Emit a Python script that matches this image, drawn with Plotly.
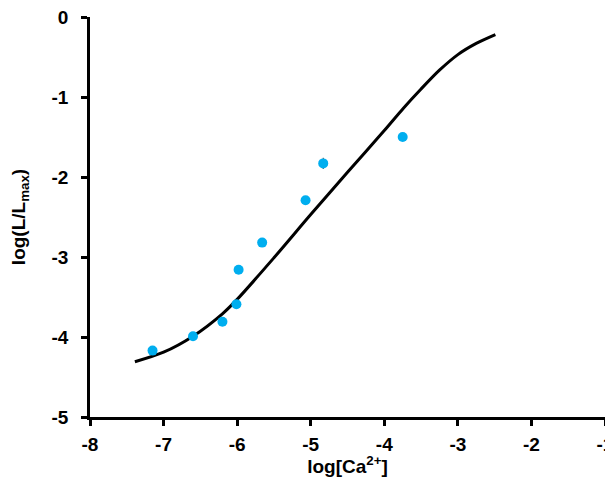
import plotly.graph_objects as go

# measured data points
log_ca = [-7.15, -6.60, -6.20, -6.01, -5.98, -5.66, -5.07, -4.83, -3.75]
log_l = [-4.17, -3.99, -3.81, -3.59, -3.16, -2.82, -2.29, -1.83, -1.50]
err_l = [0, 0, 0, 0, 0, 0, 0, 0.07, 0]

# fitted curve
fit_x = [-7.39, -7.0, -6.6, -6.2, -6.0, -5.5, -5.0, -4.5, -4.0, -3.74, -3.5, -3.25, -3.0, -2.75, -2.49]
fit_y = [-4.31, -4.19, -3.99, -3.71, -3.53, -3.01, -2.47, -1.94, -1.42, -1.14, -0.90, -0.665, -0.47, -0.33, -0.22]

x_ticks = [-8, -7, -6, -5, -4, -3, -2, -1]
y_ticks = [-5, -4, -3, -2, -1, 0]

font = dict(family="Liberation Sans, Arial, sans-serif", size=19, color="black", weight="bold")

fig = go.Figure()
fig.add_trace(go.Scatter(
    x=fit_x, y=fit_y, mode="lines",
    line=dict(color="black", width=3, shape="spline", smoothing=0.8),
    showlegend=False, hoverinfo="skip"))
fig.add_trace(go.Scatter(
    x=log_ca, y=log_l, mode="markers",
    marker=dict(color="#00AEEF", size=10),
    error_y=dict(type="data", array=err_l, visible=True, color="#333333", thickness=1, width=0),
    showlegend=False))

# the page body has an 8px margin, so the figure is sized to fit inside the window
fig.update_layout(
    width=605, height=469,
    margin=dict(l=82, r=8, t=9, b=60),
    paper_bgcolor="white", plot_bgcolor="white",
    font=font,
    xaxis=dict(
        range=[-8, -1], tickvals=x_ticks, ticktext=[str(v) for v in x_ticks],
        showgrid=False, zeroline=False, showline=True, linecolor="black", linewidth=2.5,
        ticks="outside", ticklen=6, tickwidth=2.5, tickcolor="black",
        tickfont=font, automargin=False, ticklabeloverflow="allow", ticklabelstandoff=2,
        title=dict(text="log[Ca<sup>2+</sup>]", font=font, standoff=13),
    ),
    yaxis=dict(
        range=[-5, 0], tickvals=y_ticks, ticktext=[str(v) for v in y_ticks],
        showgrid=False, zeroline=False, showline=True, linecolor="black", linewidth=2.5,
        ticks="outside", ticklen=6, tickwidth=2.5, tickcolor="black",
        tickfont=font, automargin=False, ticklabeloverflow="allow", ticklabelstandoff=9,
        title=dict(text="log(L/L<sub>max</sub>)", font=font, standoff=22),
    ),
)
fig.write_html("out.html")
